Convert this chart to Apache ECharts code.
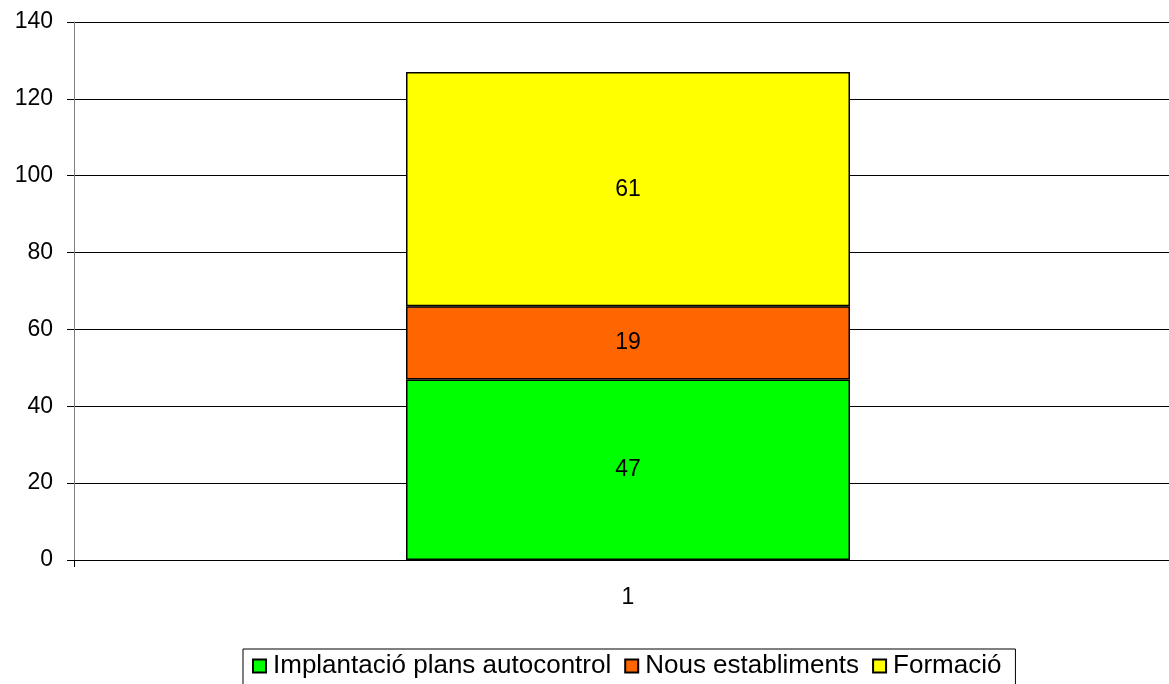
<!DOCTYPE html>
<html>
<head>
<meta charset="utf-8">
<script src="https://cdn.jsdelivr.net/npm/echarts@6/dist/echarts.min.js"></script>
<style>html,body{margin:0;padding:0;background:#fff;overflow:hidden}#c{width:1169px;height:684px}</style>
</head>
<body>
<div id="c"></div>
<script>
const categories = ['1'];
const seriesNames = ['Implantació plans autocontrol', 'Nous establiments', 'Formació'];
const implantacio = [47];
const nous = [19];
const formacio = [61];
const colors = ['#00FF00', '#FF6600', '#FFFF00'];
const yTicks = [0, 20, 40, 60, 80, 100, 120, 140];

const chart = echarts.init(document.getElementById('c'), null, {renderer: 'canvas'});
const font = 'Liberation Sans, Arial, sans-serif';
const values = [implantacio, nous, formacio];
chart.setOption({
  animation: false,
  textStyle: {fontFamily: font},
  grid: {left: 74, top: 22, width: 1108, height: 538, containLabel: false, outerBoundsMode: 'none'},
  xAxis: {
    type: 'category',
    data: categories,
    axisLine: {lineStyle: {color: '#000', width: 1}},
    axisTick: {show: true, length: 7, alignWithLabel: false, lineStyle: {color: '#000'}},
    axisLabel: {fontSize: 23, color: '#000', margin: 26, fontFamily: font},
    splitLine: {show: false}
  },
  yAxis: {
    type: 'value',
    min: yTicks[0],
    max: yTicks[yTicks.length - 1],
    interval: 20,
    axisLine: {show: true, lineStyle: {color: '#808080', width: 1}},
    axisTick: {show: true, length: 7, lineStyle: {color: '#000'}},
    axisLabel: {fontSize: 23, color: '#000', margin: 21, fontFamily: font},
    splitLine: {show: true, lineStyle: {color: '#000', width: 1}}
  },
  legend: {
    data: seriesNames,
    top: 649,
    left: 243,
    icon: 'rect',
    itemWidth: 13,
    itemHeight: 13,
    itemGap: 13,
    padding: [4, 14, 20, 9],
    borderColor: '#000',
    borderWidth: 1,
    textStyle: {fontSize: 26, color: '#000', fontFamily: font, padding: [0, 0, 0, 2]}
  },
  series: seriesNames.map((n, i) => ({
    name: n,
    type: 'bar',
    stack: 'total',
    data: values[i],
    barWidth: 444,
    itemStyle: {color: colors[i], borderColor: '#000', borderWidth: 1.5},
    label: {show: true, position: 'inside', fontSize: 23, color: '#000', fontFamily: font}
  }))
});
</script>
</body>
</html>
